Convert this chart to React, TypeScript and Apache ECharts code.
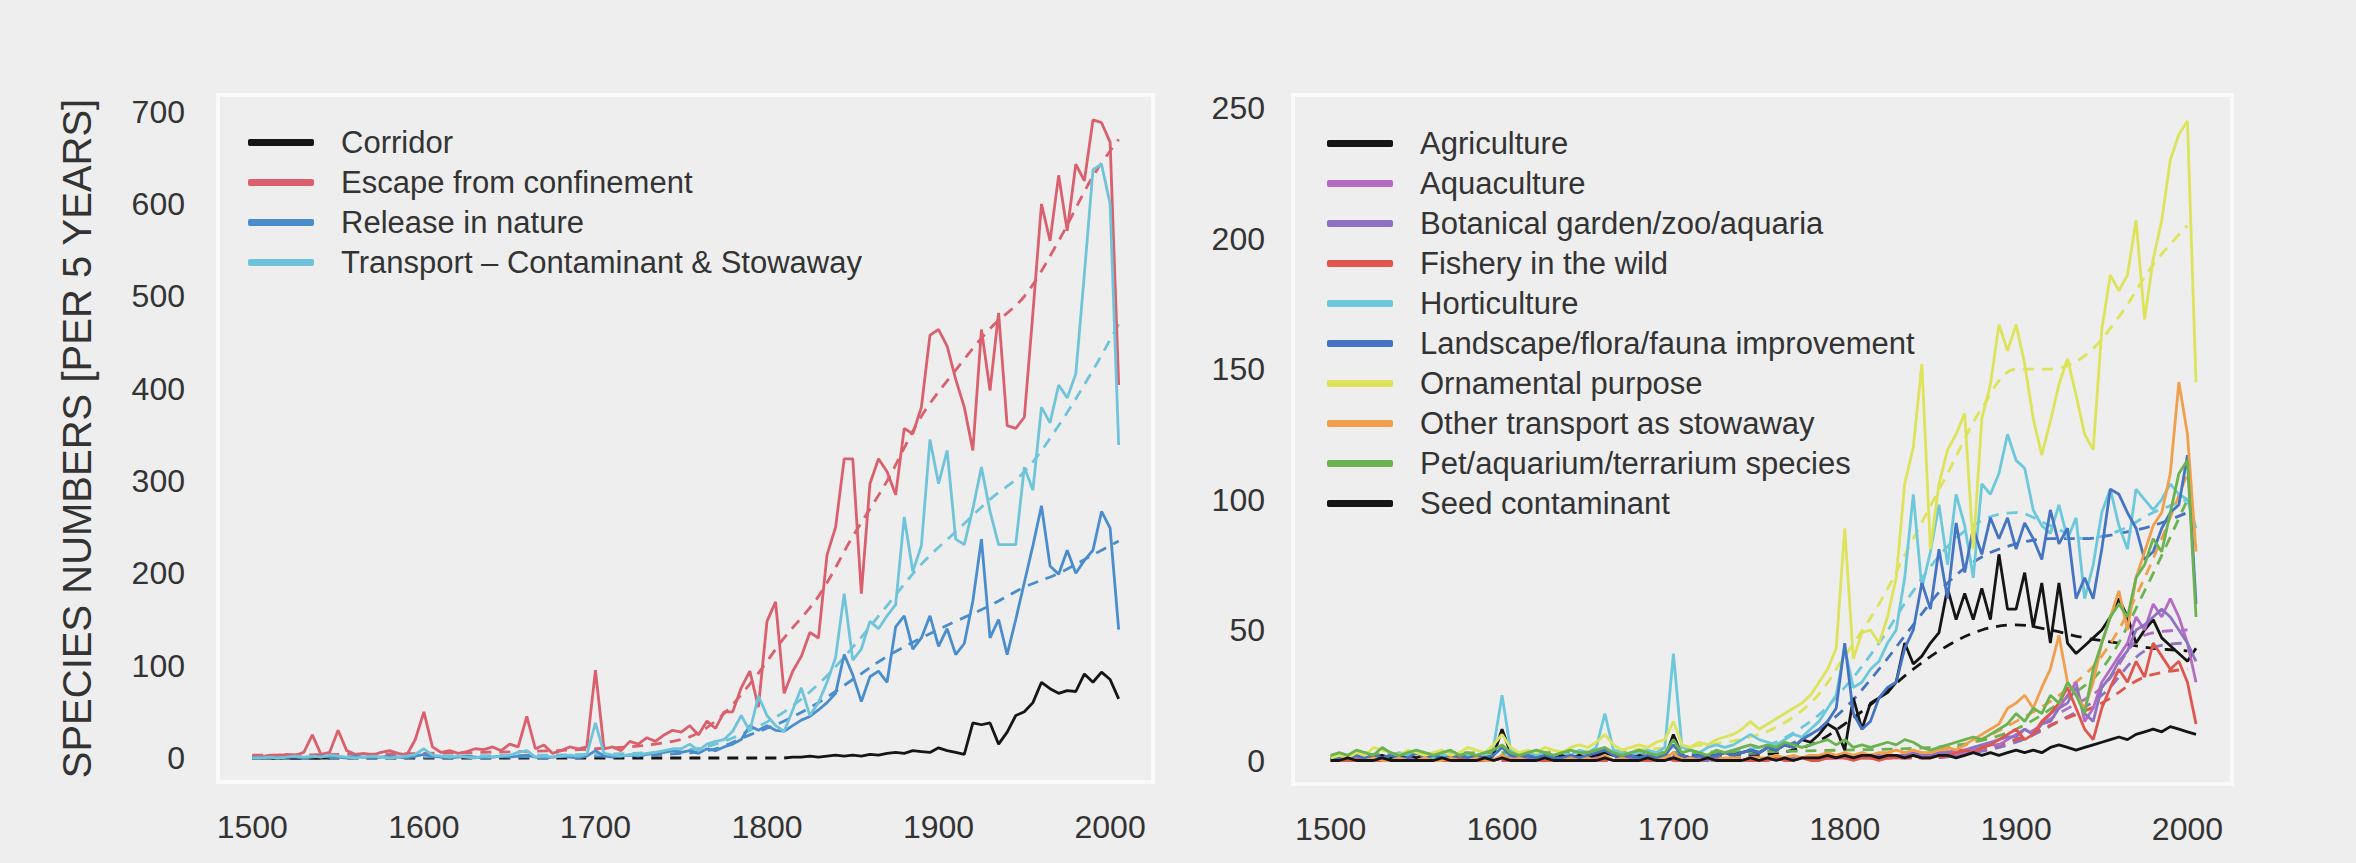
import React, { useEffect, useRef } from "react";
import * as echarts from "echarts";

// 5-year bins
const YEARS = [
  1500, 1505, 1510, 1515, 1520, 1525, 1530, 1535, 1540, 1545,
  1550, 1555, 1560, 1565, 1570, 1575, 1580, 1585, 1590, 1595,
  1600, 1605, 1610, 1615, 1620, 1625, 1630, 1635, 1640, 1645,
  1650, 1655, 1660, 1665, 1670, 1675, 1680, 1685, 1690, 1695,
  1700, 1705, 1710, 1715, 1720, 1725, 1730, 1735, 1740, 1745,
  1750, 1755, 1760, 1765, 1770, 1775, 1780, 1785, 1790, 1795,
  1800, 1805, 1810, 1815, 1820, 1825, 1830, 1835, 1840, 1845,
  1850, 1855, 1860, 1865, 1870, 1875, 1880, 1885, 1890, 1895,
  1900, 1905, 1910, 1915, 1920, 1925, 1930, 1935, 1940, 1945,
  1950, 1955, 1960, 1965, 1970, 1975, 1980, 1985, 1990, 1995,
  2000, 2005,
];

const X_TICKS = [1500, 1600, 1700, 1800, 1900, 2000];
const LEFT_Y_TICKS = [0, 100, 200, 300, 400, 500, 600, 700];
const RIGHT_Y_TICKS = [0, 50, 100, 150, 200, 250];
const Y_TITLE = "SPECIES NUMBERS [PER 5 YEARS]";

// ---------- Left panel ----------
const corridor = [
  0, 0, 0, 0, 0, 0, 0, 0, 0, 0,
  null, null, null, null, null, null, null, null, null, null,
  null, null, null, null, null, null, null, null, null, null,
  null, null, null, null, null, null, null, null, null, null,
  null, null, null, null, null, null, null, null, null, null,
  null, null, null, null, null, null, null, null, null, null,
  null, null, 0, 1, 1, 2, 1, 2, 3, 2,
  3, 2, 4, 3, 5, 6, 5, 8, 7, 6,
  11, 8, 6, 4, 38, 36, 38, 15, 28, 46,
  50, 60, 82, 75, 70, 73, 72, 91, 82, 93,
  85, 64,
];
const escape = [
  2, 1, 3, 2, 4, 3, 6, 25, 4, 6,
  30, 8, 4, 5, 3, 6, 8, 5, 3, 20,
  50, 12, 6, 8, 5, 7, 10, 9, 12, 8,
  15, 12, 45, 10, 14, 5, 8, 12, 10, 12,
  95, 10, 12, 8, 18, 15, 22, 18, 25, 30,
  28, 35, 25, 40, 32, 50, 50, 76, 94, 55,
  148, 169, 70, 94, 110, 136, 130, 220, 250, 324,
  324, 178, 297, 324, 310, 285, 357, 351, 380, 458,
  464, 446, 410, 380, 333, 464, 398, 482, 360, 357,
  369, 482, 600, 560, 631, 571, 643, 625, 691, 688,
  667, 404,
];
const release = [
  0, 0, 1, 0, 1, 1, 0, 1, 2, 1,
  1, 0, 2, 1, 0, 1, 2, 1, 0, 2,
  4, 2, 1, 0, 1, 2, 1, 0, 1, 2,
  1, 2, 3, 1, 0, 1, 2, 1, 0, 2,
  8, 2, 1, 2, 3, 2, 4, 5, 6, 8,
  6, 8, 5, 10, 8, 12, 15, 20, 35, 30,
  35, 30, 29, 35, 41, 45, 52, 60, 70, 112,
  90, 61, 88, 94, 82, 142, 154, 118, 130, 154,
  121, 140, 112, 124, 170, 237, 130, 150, 112, 150,
  190, 230, 273, 208, 199, 225, 200, 214, 225, 267,
  249, 139,
];
const transport = [
  0, 0, 1, 0, 1, 2, 1, 2, 1, 3,
  2, 1, 0, 1, 2, 1, 0, 1, 2, 4,
  10, 3, 2, 1, 2, 1, 0, 2, 1, 2,
  3, 6, 8, 1, 2, 1, 2, 3, 2, 4,
  38, 5, 3, 2, 4, 3, 5, 6, 8, 10,
  10, 15, 8, 15, 18, 20, 29, 46, 29, 67,
  46, 35, 29, 52, 76, 46, 60, 82, 109, 178,
  106, 118, 148, 140, 154, 166, 261, 202, 230, 345,
  297, 333, 237, 231, 270, 315, 267, 231, 231, 231,
  315, 290, 380, 363, 404, 390, 416, 524, 637, 643,
  600, 339,
];

// dashed trends (left)
const TREND_YEARS_L = [1500, 1600, 1700, 1750, 1770, 1790, 1810, 1830, 1850, 1870, 1890, 1910, 1930, 1950, 1970, 1990, 2005];
const escapeTrend = [3, 5, 10, 20, 40, 80, 130, 175, 240, 300, 370, 420, 465, 500, 560, 630, 670];
const transportTrend = [1, 2, 4, 8, 15, 30, 50, 80, 120, 165, 210, 245, 280, 310, 360, 420, 470];
const releaseTrend = [0, 1, 2, 5, 10, 25, 40, 60, 85, 110, 130, 148, 165, 185, 200, 220, 235];
const CORRIDOR_TREND_YEARS = [1500, 1550, 1600, 1650, 1700, 1750, 1800, 1810];
const corridorTrend = [0, 0, 0, 0, 0, 0, 0, 0];

// ---------- Right panel ----------
const agriculture = [
  1, 1, 2, 1, 0, 1, 2, 1, 1, 2,
  1, 2, 1, 0, 1, 2, 1, 1, 0, 2,
  12, 3, 2, 1, 2, 1, 1, 2, 1, 2,
  1, 2, 3, 2, 1, 1, 2, 1, 2, 1,
  10, 2, 1, 2, 1, 2, 3, 2, 3, 4,
  3, 5, 4, 6, 5, 8, 7, 10, 14, 12,
  4, 24, 12, 22, 24, 26, 30, 45, 37, 40,
  45, 49, 66, 54, 64, 54, 66, 54, 79, 58,
  58, 72, 51, 68, 45, 68, 45, 41, 44, 47,
  50, 55, 62, 55, 45, 50, 54, 47, 44, 41,
  38, 43,
];
const aquaculture = [
  0, 0, 0, 1, 0, 0, 1, 0, 0, 1,
  0, 0, 1, 0, 0, 1, 0, 0, 1, 0,
  2, 0, 1, 0, 0, 1, 0, 0, 1, 0,
  0, 1, 1, 0, 0, 1, 0, 0, 1, 0,
  1, 0, 0, 1, 0, 1, 0, 1, 0, 1,
  1, 0, 1, 1, 0, 1, 1, 1, 2, 1,
  1, 1, 2, 1, 1, 2, 1, 2, 2, 1,
  2, 2, 3, 2, 3, 4, 5, 6, 6, 8,
  10, 12, 10, 14, 18, 20, 25, 30, 15, 20,
  30, 35, 40, 45, 55, 50, 60, 55, 62, 55,
  45, 30,
];
const botanical = [
  0, 1, 0, 0, 0, 1, 0, 0, 1, 0,
  0, 1, 0, 0, 1, 0, 0, 0, 1, 0,
  1, 0, 0, 1, 0, 0, 1, 0, 0, 1,
  0, 0, 1, 0, 0, 1, 0, 0, 0, 1,
  1, 0, 1, 0, 0, 1, 0, 1, 0, 1,
  0, 1, 1, 0, 1, 1, 1, 2, 1, 2,
  2, 1, 1, 2, 2, 1, 2, 2, 3, 2,
  2, 3, 3, 4, 4, 5, 6, 7, 8, 9,
  9, 12, 10, 14, 15, 20, 22, 28, 18, 15,
  28, 32, 38, 42, 50, 52, 55, 58, 55, 50,
  45, 38,
];
const fishery = [
  0, 0, 0, 0, 1, 0, 0, 0, 0, 0,
  0, 0, 0, 0, 0, 1, 0, 0, 0, 0,
  1, 0, 0, 0, 0, 0, 0, 1, 0, 0,
  0, 0, 1, 0, 0, 0, 0, 0, 0, 1,
  0, 0, 0, 0, 1, 0, 0, 0, 0, 0,
  0, 0, 1, 0, 0, 1, 0, 0, 1, 1,
  1, 0, 1, 1, 0, 1, 1, 1, 2, 1,
  1, 2, 2, 3, 4, 3, 5, 6, 8, 10,
  12, 8, 10, 15, 18, 22, 28, 20, 12, 8,
  20, 28, 35, 30, 38, 32, 45, 40, 35, 38,
  30, 14,
];
const horticulture = [
  1, 2, 1, 2, 3, 2, 1, 2, 3, 2,
  4, 2, 1, 2, 3, 2, 1, 2, 3, 5,
  25, 4, 2, 3, 2, 3, 2, 3, 2, 4,
  3, 5, 18, 4, 3, 2, 3, 4, 3, 5,
  41, 5, 4, 3, 5, 6, 5, 6, 8, 10,
  8, 7, 6, 8, 10, 9, 12, 15, 20, 25,
  43, 28, 30, 35, 38, 45, 50, 70, 102, 66,
  80, 98, 75, 102, 90, 70, 106, 102, 110, 125,
  115, 112, 96, 90, 87, 98, 85, 93, 62, 75,
  95, 104, 90, 81, 104, 100, 96, 100, 106, 102,
  100, 89,
];
const landscape = [
  0, 1, 1, 2, 1, 2, 1, 2, 1, 1,
  3, 1, 2, 1, 1, 2, 1, 2, 1, 2,
  5, 2, 1, 2, 1, 2, 1, 1, 2, 1,
  2, 3, 4, 2, 1, 2, 1, 2, 1, 2,
  6, 2, 1, 2, 1, 2, 3, 2, 3, 4,
  3, 5, 4, 6, 5, 8, 10, 12, 15, 20,
  45, 18, 12, 15, 24, 28, 30, 43, 50, 68,
  58, 81, 62, 91, 72, 89, 79, 93, 85, 93,
  81, 91, 85, 77, 96, 83, 89, 62, 70, 62,
  81, 104, 102, 95, 89, 77, 80, 89, 95, 98,
  117, 60,
];
const ornamental = [
  1, 2, 1, 3, 2, 5, 4, 3, 2, 4,
  3, 2, 3, 4, 2, 3, 5, 4, 3, 6,
  10, 5, 3, 4, 3, 5, 4, 3, 5, 6,
  5, 7, 10, 6, 4, 5, 6, 5, 7, 8,
  15, 6, 5, 7, 6, 8, 9, 10, 12, 15,
  12, 14, 16, 18, 20, 22, 25, 30, 35, 43,
  89, 39, 49, 50, 45, 55, 70, 106, 120, 152,
  81, 106, 119, 125, 133, 81, 131, 144, 167, 157,
  167, 152, 131, 117, 130, 144, 154, 140, 125, 119,
  165, 186, 180, 186, 207, 169, 192, 207, 230, 240,
  245, 145,
];
const otherTransport = [
  0, 0, 1, 0, 0, 1, 0, 0, 1, 0,
  0, 1, 0, 0, 1, 0, 0, 1, 0, 0,
  2, 0, 1, 0, 0, 1, 0, 0, 1, 0,
  1, 0, 2, 0, 1, 0, 0, 1, 0, 1,
  3, 0, 1, 0, 1, 0, 1, 1, 0, 1,
  1, 1, 2, 1, 2, 1, 2, 2, 3, 2,
  3, 2, 3, 2, 3, 3, 4, 3, 4, 3,
  3, 4, 5, 4, 6, 8, 10, 12, 14, 20,
  22, 25, 20, 28, 35, 48, 30, 25, 20, 30,
  45, 55, 65, 50, 70, 80, 90, 95, 110, 145,
  125, 80,
];
const pet = [
  2, 3, 2, 4, 3, 2, 5, 3, 2, 3,
  4, 3, 2, 3, 4, 2, 3, 2, 3, 4,
  6, 3, 2, 3, 4, 3, 2, 3, 4, 3,
  3, 4, 5, 3, 2, 3, 4, 3, 2, 3,
  8, 3, 4, 3, 2, 4, 3, 4, 5, 6,
  5, 6, 5, 7, 6, 5, 6, 7, 8, 6,
  8, 5, 6, 5, 6, 7, 6, 8, 7, 5,
  4, 5, 6, 7, 8, 9, 8, 10, 12, 14,
  18, 15, 20, 18, 25, 22, 30, 25, 18, 35,
  45, 55, 60, 55, 70, 75, 85, 80, 95, 110,
  115, 55,
];
const seed = [
  0, 0, 1, 0, 0, 0, 1, 0, 0, 0,
  0, 0, 0, 1, 0, 0, 0, 0, 1, 0,
  1, 0, 0, 0, 0, 1, 0, 0, 0, 0,
  0, 0, 1, 0, 0, 0, 0, 1, 0, 0,
  1, 0, 0, 0, 1, 0, 0, 0, 0, 1,
  0, 1, 0, 1, 0, 1, 1, 1, 2, 1,
  2, 1, 2, 2, 1, 2, 2, 1, 2, 1,
  1, 2, 2, 1, 2, 3, 2, 3, 2, 3,
  4, 3, 4, 3, 5, 6, 5, 4, 5, 6,
  7, 8, 9, 8, 10, 11, 12, 11, 13, 12,
  11, 10,
];

// dashed trends (right)
const TREND_YEARS_R = [1500, 1600, 1700, 1750, 1780, 1800, 1820, 1840, 1860, 1880, 1900, 1920, 1940, 1960, 1980, 2000];
const ornamentalTrend = [2, 3, 5, 10, 22, 40, 60, 85, 110, 135, 150, 150, 155, 170, 190, 205];
const horticultureTrend = [1, 2, 3, 5, 15, 28, 45, 65, 82, 92, 95, 90, 85, 88, 95, 100];
const landscapeTrend = [1, 1, 2, 3, 10, 20, 35, 52, 68, 78, 83, 85, 85, 87, 90, 95];
const agricultureTrend = [1, 1, 1, 2, 6, 14, 24, 35, 44, 50, 52, 50, 47, 45, 43, 42];
const LOW_TREND_YEARS = [1500, 1600, 1700, 1800, 1850, 1875, 1900, 1925, 1950, 1975, 2000];
const otherTransportTrend = [0, 1, 1, 2, 3, 7, 15, 25, 40, 70, 110];
const petTrend = [2, 3, 3, 4, 5, 7, 12, 22, 35, 65, 100];
const fisheryTrend = [0, 0, 0, 1, 1, 4, 8, 15, 22, 32, 35];
const aquacultureTrend = [0, 0, 0, 1, 1, 4, 8, 18, 28, 48, 50];
const botanicalTrend = [0, 0, 0, 1, 1, 3, 7, 15, 25, 42, 45];

const BG = "#eeeeee";
const FONT = "Liberation Sans";
const TEXT = "#333333";

const LEFT = [
  { name: "Corridor", color: "#151515", data: corridor, trendX: CORRIDOR_TREND_YEARS, trend: corridorTrend },
  { name: "Escape from confinement", color: "#d9606c", data: escape, trendX: TREND_YEARS_L, trend: escapeTrend },
  { name: "Release in nature", color: "#4a8dcd", data: release, trendX: TREND_YEARS_L, trend: releaseTrend },
  { name: "Transport \u2013 Contaminant & Stowaway", color: "#6fc4da", data: transport, trendX: TREND_YEARS_L, trend: transportTrend },
];

const RIGHT = [
  { name: "Agriculture", color: "#151515", data: agriculture, trendX: TREND_YEARS_R, trend: agricultureTrend },
  { name: "Aquaculture", color: "#b36cc2", data: aquaculture, trendX: LOW_TREND_YEARS, trend: aquacultureTrend },
  { name: "Botanical garden/zoo/aquaria", color: "#8c72c0", data: botanical, trendX: LOW_TREND_YEARS, trend: botanicalTrend },
  { name: "Fishery in the wild", color: "#e0564c", data: fishery, trendX: LOW_TREND_YEARS, trend: fisheryTrend },
  { name: "Horticulture", color: "#6cc8da", data: horticulture, trendX: TREND_YEARS_R, trend: horticultureTrend },
  { name: "Landscape/flora/fauna improvement", color: "#4574c2", data: landscape, trendX: TREND_YEARS_R, trend: landscapeTrend },
  { name: "Ornamental purpose", color: "#dde35a", data: ornamental, trendX: TREND_YEARS_R, trend: ornamentalTrend },
  { name: "Other transport as stowaway", color: "#f0a04c", data: otherTransport, trendX: LOW_TREND_YEARS, trend: otherTransportTrend },
  { name: "Pet/aquarium/terrarium species", color: "#6ab350", data: pet, trendX: LOW_TREND_YEARS, trend: petTrend },
  { name: "Seed contaminant", color: "#151515", data: seed, trendX: null as number[] | null, trend: null as number[] | null },
];

function buildSeries(defs: any[], axis: number) {
  const out: any[] = [];
  defs.forEach((d) => {
    if (d.trend && d.trendX) {
      out.push({
        name: d.name + " (trend)",
        type: "line",
        xAxisIndex: axis,
        yAxisIndex: axis,
        data: d.trendX.map((y: number, i: number) => [y, d.trend[i]]),
        smooth: 0.35,
        showSymbol: false,
        silent: true,
        color: d.color,
        lineStyle: { color: d.color, width: 2.8, type: [11, 8] },
        z: 2,
      });
    }
  });
  defs.forEach((d) => {
    out.push({
      name: d.name,
      type: "line",
      xAxisIndex: axis,
      yAxisIndex: axis,
      data: YEARS.map((y, i) => [y, d.data[i]]),
      showSymbol: false,
      connectNulls: false,
      color: d.color,
      itemStyle: { color: d.color },
      lineStyle: { color: d.color, width: 2.8 },
      z: 3,
    });
  });
  return out;
}

const axisLabelBase = { fontSize: 32, color: TEXT, fontFamily: FONT, formatter: (v: number) => String(v) };

function makeLegend(names: string[], left: number, top: number) {
  return {
    data: names,
    orient: "vertical",
    left,
    top,
    icon: "roundRect",
    itemWidth: 66,
    itemHeight: 7,
    itemGap: 9,
    selectedMode: false,
    textStyle: { fontSize: 31, color: TEXT, fontFamily: FONT, padding: [0, 0, 0, 22] },
  };
}

export default function App() {
  const ref = useRef<HTMLDivElement>(null);
  useEffect(() => {
    document.body.style.margin = "0";
    document.body.style.background = BG;
    const chart = echarts.init(ref.current!, null, { renderer: "svg" });
    const option: any = {
      animation: false,
      backgroundColor: BG,
      textStyle: { fontFamily: FONT },
      grid: [
        { left: 218, top: 95, width: 935, height: 687, show: true, backgroundColor: BG, borderColor: "#fafafa", borderWidth: 4 },
        { left: 1293, top: 95, width: 939, height: 689, show: true, backgroundColor: BG, borderColor: "#fafafa", borderWidth: 4 },
      ],
      xAxis: [
        {
          type: "value", gridIndex: 0, min: 1480, max: 2025,
          axisLine: { show: false }, axisTick: { show: false }, splitLine: { show: false },
          axisLabel: { ...axisLabelBase, margin: 29, customValues: X_TICKS },
        },
        {
          type: "value", gridIndex: 1, min: 1478, max: 2026,
          axisLine: { show: false }, axisTick: { show: false }, splitLine: { show: false },
          axisLabel: { ...axisLabelBase, margin: 29, customValues: X_TICKS },
        },
      ],
      yAxis: [
        {
          type: "value", gridIndex: 0, min: -26, max: 718,
          axisLine: { show: false }, axisTick: { show: false }, splitLine: { show: false },
          axisLabel: { ...axisLabelBase, margin: 33, customValues: LEFT_Y_TICKS },
          name: Y_TITLE, nameLocation: "middle", nameRotate: 90, nameGap: 121,
          nameTextStyle: { fontSize: 40, color: TEXT, fontFamily: FONT },
        },
        {
          type: "value", gridIndex: 1, min: -9, max: 255,
          axisLine: { show: false }, axisTick: { show: false }, splitLine: { show: false },
          axisLabel: { ...axisLabelBase, margin: 28, customValues: RIGHT_Y_TICKS },
        },
      ],
      legend: [
        makeLegend(LEFT.map((d) => d.name), 243, 122),
        makeLegend(RIGHT.map((d) => d.name), 1322, 123),
      ],
      series: [...buildSeries(LEFT, 0), ...buildSeries(RIGHT, 1)],
    };
    chart.setOption(option);
    return () => chart.dispose();
  }, []);
  return <div ref={ref} style={{ width: 2356, height: 863, background: BG }} />;
}
